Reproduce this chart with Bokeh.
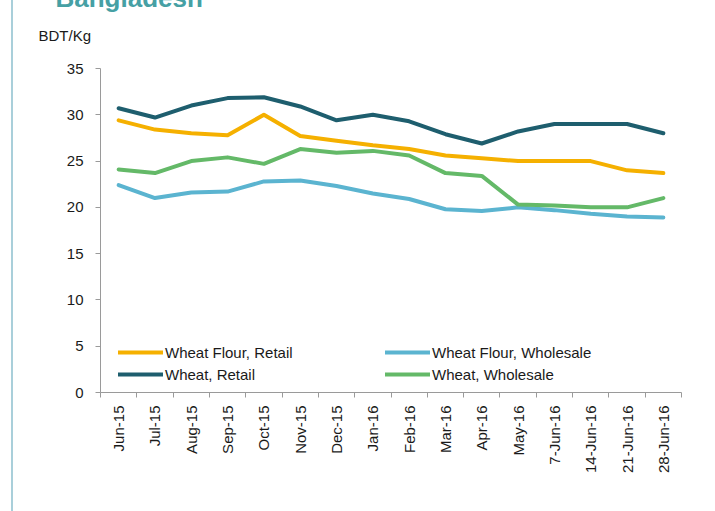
from bokeh.plotting import figure
from bokeh.models import FixedTicker, Legend, LegendItem, Title
from bokeh.embed import file_html
from bokeh.resources import INLINE
import math

categories = ["Jun-15", "Jul-15", "Aug-15", "Sep-15", "Oct-15", "Nov-15", "Dec-15",
              "Jan-16", "Feb-16", "Mar-16", "Apr-16", "May-16", "7-Jun-16",
              "14-Jun-16", "21-Jun-16", "28-Jun-16"]
wheat_flour_retail = [29.4, 28.4, 28.0, 27.8, 30.0, 27.7, 27.2, 26.7, 26.3, 25.6,
                      25.3, 25.0, 25.0, 25.0, 24.0, 23.7]
wheat_flour_wholesale = [22.4, 21.0, 21.6, 21.7, 22.8, 22.9, 22.3, 21.5, 20.9, 19.8,
                         19.6, 20.0, 19.7, 19.3, 19.0, 18.9]
wheat_retail = [30.7, 29.7, 31.0, 31.8, 31.9, 30.9, 29.4, 30.0, 29.3, 27.9,
                26.9, 28.2, 29.0, 29.0, 29.0, 28.0]
wheat_wholesale = [24.1, 23.7, 25.0, 25.4, 24.7, 26.3, 25.9, 26.1, 25.6, 23.7,
                   23.4, 20.3, 20.2, 20.0, 20.0, 21.0]
y_ticks = [0, 5, 10, 15, 20, 25, 30, 35]

FONT = "Liberation Sans"
W, H = 715, 511
L, R, T, B = 100, 34, 68, 119

xs = list(range(len(categories)))

p = figure(width=W, height=H, frame_width=W - L - R, frame_height=H - T - B,
           output_backend="svg", toolbar_location=None,
           x_range=(-0.5, len(categories) - 0.5), y_range=(0, 35),
           min_border_left=L, min_border_right=R, min_border_top=T, min_border_bottom=B,
           styles={"background-color": "white",
                   "background-image": "linear-gradient(to right, transparent 11px, #A9CFDA 11px, #A9CFDA 13px, transparent 13px)"})
p.outline_line_color = None
p.grid.visible = False
p.border_fill_alpha = 0
p.background_fill_color = "white"

series = [
    ("Wheat Flour, Retail", wheat_flour_retail, "#F5B000"),
    ("Wheat Flour, Wholesale", wheat_flour_wholesale, "#5BB4D0"),
    ("Wheat, Retail", wheat_retail, "#1E5E6E"),
    ("Wheat, Wholesale", wheat_wholesale, "#64B968"),
]
renderers = {}
for name, vals, color in series:
    renderers[name] = p.line(xs, vals, line_color=color, line_width=4,
                             line_join="round", line_cap="round")

p.xaxis.ticker = FixedTicker(ticks=xs, minor_ticks=[i - 0.5 for i in range(len(categories) + 1)])
p.xaxis.major_label_overrides = {i: c for i, c in enumerate(categories)}
p.xaxis.major_label_orientation = math.pi / 2
p.xaxis.major_tick_out = 0
p.xaxis.major_tick_in = 0
p.xaxis.minor_tick_out = 5
p.xaxis.minor_tick_in = 0
p.xaxis.major_label_standoff = 8
p.yaxis.ticker = FixedTicker(ticks=y_ticks)
p.yaxis.major_tick_out = 5
p.yaxis.major_tick_in = 0
p.yaxis.minor_tick_out = 0
p.yaxis.minor_tick_in = 0
p.yaxis.major_label_standoff = 12
for ax in (p.xaxis, p.yaxis):
    ax.axis_line_color = "#9A9A9A"
    ax.major_tick_line_color = "#9A9A9A"
    ax.minor_tick_line_color = "#9A9A9A"
    ax.major_label_text_font = FONT
    ax.major_label_text_font_size = "15px"
    ax.major_label_text_color = "#1A1A1A"

p.add_layout(Title(text="BDT/Kg", text_font=FONT, text_font_size="15px",
                   text_font_style="normal", text_color="#1A1A1A",
                   align="left", offset=-62, standoff=49), "above")
p.add_layout(Title(text="Bangladesh", text_font=FONT, text_font_size="26px",
                   text_font_style="bold", text_color="#46A0A4", align="left",
                   offset=-45, vertical_align="top", standoff=-36), "above")

def col_legend(names, vx):
    items = [LegendItem(label=n, renderers=[renderers[n]]) for n in names]
    return Legend(items=items, orientation="vertical", location=(vx, 8),
                  padding=0, margin=0, spacing=2,
                  glyph_width=45, glyph_height=20, label_height=20,
                  label_standoff=2, border_line_color=None, background_fill_alpha=0,
                  label_text_font=FONT, label_text_font_size="15px",
                  label_text_color="#1A1A1A")

p.add_layout(col_legend(["Wheat Flour, Retail", "Wheat, Retail"], 18))
p.add_layout(col_legend(["Wheat Flour, Wholesale", "Wheat, Wholesale"], 285))

open("out.html", "w").write(file_html(p, INLINE))
